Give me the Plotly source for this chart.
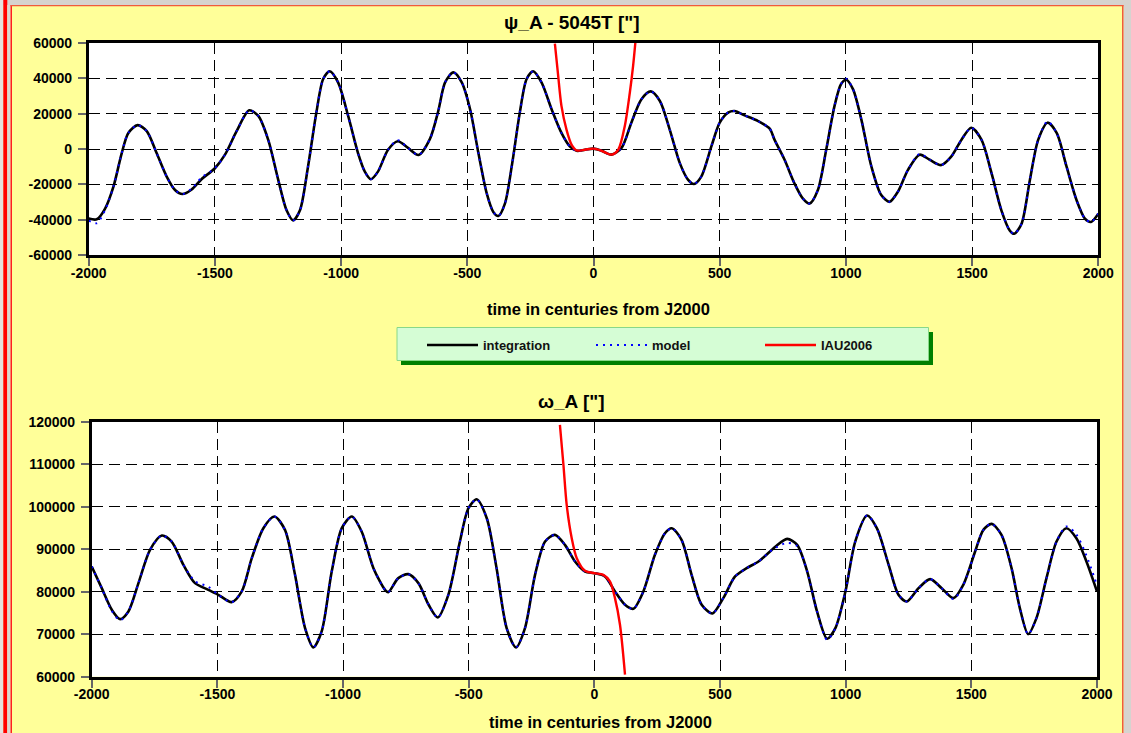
import plotly.graph_objects as go

W, H = 1131, 733

# ---------------- data ----------------
psi_t = [-2000,-1968,-1935,-1902,-1869,-1843,-1806,-1770,-1731,-1691,-1658,-1629,-1592,-1553,-1500,-1460,-1414,-1364,-1328,-1289,
         -1249,-1216,-1190,-1163,-1131,-1098,-1071,-1045,-1012,-972,-933,-906,-882,-854,-814,-775,-735,-693,-648,-615,
         -588,-555,-522,-489,-456,-423,-397,-377,-351,-322,-292,-265,-239,-206,-166,-127,-94,-67,-34,0,
         32,71,111,150,190,227,263,302,342,375,398,427,467,500,533,559,599,652,698,717,
         757,796,829,856,889,922,955,981,1001,1028,1061,1101,1140,1173,1206,1246,1292,1332,1378,1418,
         1458,1497,1537,1577,1616,1649,1667,1696,1729,1762,1799,1835,1874,1914,1947,1971,2000]
psi_integration = [-39400,-39800,-33700,-21300,-2300,9100,13500,10100,-2300,-15600,-23200,-25500,-22900,-17100,-10900,-3200,10100,21900,18700,5300,
                   -17500,-34700,-40400,-34700,-9900,20600,39600,44000,37700,18700,-2300,-12800,-17100,-12800,-400,4400,600,-3400,5700,21500,
                   37700,43400,37700,22500,-2300,-25100,-35600,-37900,-30900,-8000,20600,39600,44000,37700,22500,9100,1500,-1000,-400,200,
                   -1000,-3200,600,14900,28200,32600,27200,11000,-8000,-17500,-19800,-15600,1500,14900,20600,21500,19000,15800,11500,5300,
                   -6100,-19400,-28000,-30900,-23200,-400,24400,36800,39200,33900,16800,-9900,-26100,-29900,-24200,-11800,-3200,-6100,-9100,-4200,
                   5300,12000,5300,-13700,-34700,-46100,-48000,-42300,-17500,5300,14900,9100,-9900,-29000,-39400,-41300,-36600]
psi_model = [-40500,-42000,-34500,-21300,-2300,9100,13500,10100,-2300,-15600,-23200,-25500,-22500,-16200,-10900,-3200,10100,21900,18700,5300,
             -17500,-34700,-40400,-34700,-9900,20600,39600,44000,37700,18700,-2300,-12800,-17100,-12800,-400,5000,600,-3400,5700,21500,
             37700,43400,37700,22500,-2300,-25100,-35600,-37900,-30900,-8000,20600,39600,44000,37700,22500,9100,1500,-1000,-400,200,
             -1000,-3200,600,14900,28200,32600,27200,11000,-8000,-17500,-19800,-15600,1500,14900,20600,21500,19000,15800,11500,5300,
             -6100,-19400,-28000,-30900,-23200,-400,24400,36800,39800,33900,16800,-9900,-26100,-29900,-24200,-11800,-2800,-6100,-9100,-4200,
             5300,12000,5300,-13700,-34700,-46100,-48000,-42300,-17500,5300,15600,9100,-9900,-29000,-39400,-41300,-36600]
psi_iau_t = [-153,-140,-127,-107,-87,-67,-34,0,32,71,98,124,144,157,166]
psi_iau = [59600,41500,24400,11000,2500,-800,-400,200,-1000,-3200,-400,13000,32000,47200,60500]

om_t = [-2000,-1960,-1920,-1887,-1854,-1814,-1768,-1721,-1682,-1635,-1589,-1536,-1496,-1443,-1403,-1363,-1317,-1273,-1231,-1191,
        -1151,-1118,-1085,-1045,-1005,-965,-926,-879,-833,-820,-780,-740,-700,-660,-623,-581,-535,-501,-468,-428,
        -389,-349,-312,-276,-236,-196,-157,-117,-77,-37,0,42,82,122,155,195,241,281,308,347,
        387,427,470,513,560,606,653,699,721,767,807,847,886,926,959,999,1038,1085,1124,1171,
        1210,1243,1290,1336,1382,1429,1468,1515,1548,1581,1620,1660,1693,1726,1759,1799,1839,1878,1918,1958,2000]
om_integration = [85960,80860,75760,73570,75370,82040,89880,93250,91840,86350,82040,80470,79290,77570,80080,87920,94980,97730,94590,84000,
                  71450,66900,70670,84780,94980,97730,94200,85570,80470,79920,83220,84160,82040,77000,73960,79290,91840,99690,101800,97330,
                  85570,71450,66900,71450,84000,91840,93410,91060,87140,84780,84390,83610,80080,76940,76000,80080,88710,93800,94980,92240,
                  84000,76940,74900,78510,83610,85570,87140,89490,90670,92470,91060,84780,75370,68940,71450,80080,91840,97960,94980,86350,
                  79290,77730,80860,82980,80860,78510,81650,89490,94590,96000,93410,85570,76160,70040,73800,83220,91840,94980,92630,87140,80080]
om_model = [85960,80860,75500,73300,75370,82040,89880,93250,91840,86350,82500,81200,79290,77570,80080,87920,94980,97730,94590,84000,
            71450,66900,70670,84780,94980,97730,94200,85570,80470,79920,83220,84160,82040,77000,73960,79290,91840,99690,101800,97330,
            85570,71450,66900,71450,84000,91840,93410,91060,87140,84780,84390,83610,80080,76940,76000,80080,88710,93800,94980,92240,
            84000,76940,74900,78510,83610,85570,87140,89490,90400,91500,90800,84780,75370,68700,71450,80080,91840,97960,94980,86350,
            79290,77730,80860,82980,80860,78300,81650,89490,94590,96000,93410,85570,76160,70040,73800,83220,91840,95400,93500,88500,81500]
om_iau_t = [-137,-123,-110,-90,-70,-37,0,36,62,82,102,122]
om_iau = [119300,109900,100470,92630,87920,84940,84390,84000,82430,78510,72240,60470]

x_ticks = [-2000, -1500, -1000, -500, 0, 500, 1000, 1500, 2000]
x_tick_labels = ["-2000", "-1500", "-1000", "-500", "0", "500", "1000", "1500", "2000"]
psi_ticks = [-60000, -40000, -20000, 0, 20000, 40000, 60000]
psi_tick_labels = ["-60000", "-40000", "-20000", "0", "20000", "40000", "60000"]
om_ticks = [60000, 70000, 80000, 90000, 100000, 110000, 120000]
om_tick_labels = ["60000", "70000", "80000", "90000", "100000", "110000", "120000"]

series_names = ["integration", "model", "IAU2006"]

# ---------------- helpers ----------------
def px_x(p):
    return p / W

def px_y(p):
    return 1 - p / H

FONT = "Liberation Sans, Arial, sans-serif"

fig = go.Figure()

line_black = dict(color="black", width=2.6, shape="spline", smoothing=0.8)
line_blue = dict(color="#0000ff", width=2, dash="2px,5px", shape="spline", smoothing=0.8)
line_red = dict(color="#ff0000", width=2.4, shape="spline", smoothing=0.8)

fig.add_trace(go.Scatter(x=psi_t, y=psi_integration, mode="lines", name=series_names[0],
                         line=line_black, xaxis="x", yaxis="y", legendgroup="a"))
fig.add_trace(go.Scatter(x=psi_t, y=psi_model, mode="lines", name=series_names[1],
                         line=line_blue, xaxis="x", yaxis="y", legendgroup="b"))
fig.add_trace(go.Scatter(x=psi_iau_t, y=psi_iau, mode="lines", name=series_names[2],
                         line=line_red, xaxis="x", yaxis="y", legendgroup="c"))

fig.add_trace(go.Scatter(x=om_t, y=om_integration, mode="lines", name=series_names[0], showlegend=False,
                         line=line_black, xaxis="x2", yaxis="y2", legendgroup="a"))
fig.add_trace(go.Scatter(x=om_t, y=om_model, mode="lines", name=series_names[1], showlegend=False,
                         line=line_blue, xaxis="x2", yaxis="y2", legendgroup="b"))
fig.add_trace(go.Scatter(x=om_iau_t, y=om_iau, mode="lines", name=series_names[2], showlegend=False,
                         line=line_red, xaxis="x2", yaxis="y2", legendgroup="c"))

axis_common = dict(
    showline=True, linecolor="black", linewidth=2.6, mirror=True,
    showgrid=True, gridcolor="black", gridwidth=1, griddash="11px,6px",
    zeroline=False, ticks="outside", ticklen=8, tickcolor="#666666", tickwidth=1.5,
    tickfont=dict(family=FONT, size=14, color="black", weight="bold"),
    automargin=False, fixedrange=True, tickmode="array",
)

fig.update_layout(
    width=W, height=H,
    margin=dict(l=0, r=0, t=0, b=0),
    paper_bgcolor="#ffff99",
    plot_bgcolor="white",
    template="none",
    font=dict(family=FONT, color="black"),
    xaxis=dict(axis_common, domain=[px_x(88.7), px_x(1098.3)], range=[-2000, 2000],
               tickvals=x_ticks, ticktext=x_tick_labels, anchor="y", ticklabelstandoff=-5),
    yaxis=dict(axis_common, domain=[px_y(255), px_y(43)], range=[-60000, 60000],
               tickvals=psi_ticks, ticktext=psi_tick_labels, anchor="x", ticklabelstandoff=3),
    xaxis2=dict(axis_common, domain=[px_x(91.7), px_x(1097)], range=[-2000, 2000],
                tickvals=x_ticks, ticktext=x_tick_labels, anchor="y2", ticklabelstandoff=-5),
    yaxis2=dict(axis_common, domain=[px_y(676.7), px_y(422)], range=[60000, 120000],
                tickvals=om_ticks, ticktext=om_tick_labels, anchor="x2", ticklabelstandoff=3),
    showlegend=True,
    legend=dict(orientation="h", x=px_x(422), y=px_y(345), xanchor="left", yanchor="middle",
                bgcolor="rgba(0,0,0,0)", borderwidth=0,
                font=dict(family=FONT, size=13, color="#111111", weight="bold"),
                entrywidth=103, entrywidthmode="pixels", itemwidth=51, traceorder="normal"),
)

title_font = dict(family=FONT, size=19, color="black", weight="bold")
axis_title_font = dict(family=FONT, size=16.5, color="black", weight="bold")
annotations = [
    dict(text='ψ_A - 5045T ["]', x=px_x(572), y=px_y(23), xref="paper", yref="paper",
         showarrow=False, xanchor="center", yanchor="middle", font=title_font),
    dict(text='ω_A ["]', x=px_x(571), y=px_y(401), xref="paper", yref="paper",
         showarrow=False, xanchor="center", yanchor="middle", font=title_font),
    dict(text="time in centuries from J2000", x=px_x(598), y=px_y(309), xref="paper", yref="paper",
         showarrow=False, xanchor="center", yanchor="middle", font=axis_title_font),
    dict(text="time in centuries from J2000", x=px_x(600), y=px_y(722), xref="paper", yref="paper",
         showarrow=False, xanchor="center", yanchor="middle", font=axis_title_font),
]
fig.update_layout(annotations=annotations)

def rect(x0, y0, x1, y1, fill, line_color=None, line_width=0, layer="above"):
    return dict(type="rect", xref="paper", yref="paper",
                x0=px_x(x0), x1=px_x(x1), y0=px_y(y1), y1=px_y(y0),
                fillcolor=fill, line=dict(color=line_color or fill, width=line_width), layer=layer)

shapes = [
    # outer frame / page edges
    rect(0, 0, W, 5, "#d6d3cf"),
    rect(0, 0, 3.3, H, "#e4e2df"),
    rect(3.3, 0, 7.3, H, "#ff0000"),
    rect(7.3, 5, 10.5, H, "#d9d7d4"),
    rect(10.5, 5, 12, H, "#ff2020"),
    rect(1123.5, 0, W, H, "#d6d3cf"),
    rect(1122, 5, 1123.5, H, "#f05a3c"),
    rect(10.5, 5, 1123.5, 6.2, "#f05a3c"),
    # legend shadow and box
    rect(401, 332, 933, 365, "#008000", layer="below"),
    rect(397, 327.5, 928.5, 360.5, "#d5fdd5", line_color="#88d888", line_width=1, layer="below"),
]
fig.update_layout(shapes=shapes)

fig.write_html("out.html")
